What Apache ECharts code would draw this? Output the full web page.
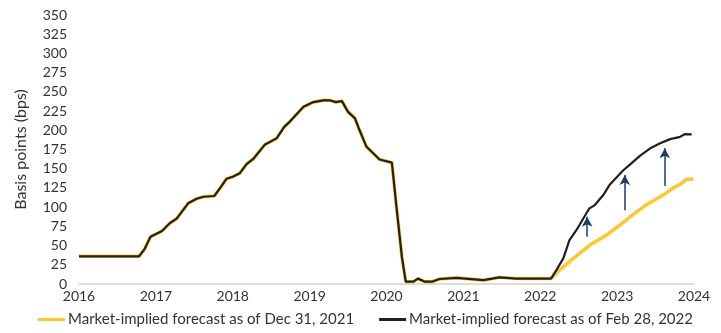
<!DOCTYPE html>
<html>
<head>
<meta charset="utf-8">
<script src="https://cdn.jsdelivr.net/npm/echarts@6/dist/echarts.min.js"></script>
<style>
  html, body { margin: 0; padding: 0; background: #fff; }
  #chart { width: 721px; height: 333px; }
</style>
</head>
<body>
<div id="chart"></div>
<script>
// history shared by both forecasts (year fraction, bps)
const histT = [2016.0, 2016.78, 2016.85, 2016.93, 2017.08, 2017.18, 2017.27, 2017.42, 2017.53, 2017.62,
  2017.76, 2017.83, 2017.92, 2018.0, 2018.09, 2018.18, 2018.27, 2018.42, 2018.57, 2018.67,
  2018.74, 2018.92, 2019.05, 2019.18, 2019.26, 2019.34, 2019.42, 2019.5, 2019.59, 2019.65,
  2019.74, 2019.91, 2020.07, 2020.13, 2020.2, 2020.25, 2020.35, 2020.41, 2020.5, 2020.59,
  2020.69, 2020.91, 2021.26, 2021.47, 2021.69, 2022.14]
const histV = [36, 36, 45, 61.5, 69, 79, 85, 105, 111, 113.5,
  114.5, 124, 137, 139.5, 144, 156, 163, 181.6, 189.5, 204.5,
  211, 230.5, 236.7, 239, 239, 236.7, 238, 224, 215.5, 200,
  178.5, 162, 158, 100, 35.5, 3, 3, 7, 3, 3,
  6.5, 8, 5, 8.7, 7, 7]

// forecast as of Dec 31, 2021
const decT = [2022.25, 2022.43, 2022.645, 2022.75, 2022.86, 2023.08, 2023.2, 2023.38, 2023.6, 2023.73, 2023.82, 2023.9, 2023.99]
const decV = [18, 33.4, 50.7, 57, 63.7, 80, 90, 103, 115.7, 125, 129.6, 136, 136.5]

// forecast as of Feb 28, 2022
const febT = [2022.21, 2022.3, 2022.38, 2022.47, 2022.6, 2022.64, 2022.71, 2022.82, 2022.9, 2023.08,
  2023.17, 2023.3, 2023.43, 2023.56, 2023.69, 2023.82, 2023.88, 2023.97]
const febV = [18, 33.4, 57, 70, 92, 98.4, 102.7, 115.7, 128.7, 148,
  155.7, 167, 176.5, 183, 188.5, 191.5, 195, 194.7]

// arrows showing the upward shift
const arrowT = [2022.61, 2023.1, 2023.62]
const arrowFrom = [61.5, 96, 127.4]
const arrowTo = [87.5, 141.7, 176.5]

const yearTicks = [2016, 2017, 2018, 2019, 2020, 2021, 2022, 2023, 2024]
const seriesNames = ['Market-implied forecast as of Dec 31, 2021', 'Market-implied forecast as of Feb 28, 2022']

function pairs(t, v) {
  return t.map((x, i) => [x, v[i]])
}

const decData = pairs(histT, histV).concat(pairs(decT, decV))
const febData = pairs(histT, histV).concat(pairs(febT, febV))
const arrows = arrowT.map((x, i) => [{ coord: [x, arrowFrom[i]] }, { coord: [x, arrowTo[i]] }])

const font = 'Lato, "Open Sans", sans-serif'
const chart = echarts.init(document.getElementById('chart'))
chart.setOption({
  animation: false,
  textStyle: { fontFamily: font },
  grid: { left: 79, right: 27, top: 15, bottom: 49 },
  legend: {
    bottom: 1,
    left: 33,
    itemWidth: 27,
    itemHeight: 3,
    itemGap: 25,
    icon: 'rect',
    data: seriesNames,
    textStyle: { color: '#333', fontSize: 15, fontFamily: font, padding: [0, 0, 0, -2] }
  },
  xAxis: {
    type: 'value',
    min: 2016,
    max: 2024,
    interval: 1,
    splitLine: { show: false },
    axisTick: { show: false },
    axisLine: { lineStyle: { color: '#d4d0cc', width: 1.5 } },
    axisLabel: {
      color: '#333',
      fontSize: 14,
      margin: 5,
      formatter: (v) => yearTicks.includes(v) ? String(v) : ''
    }
  },
  yAxis: {
    type: 'value',
    min: 0,
    max: 350,
    interval: 25,
    name: 'Basis points (bps)',
    nameLocation: 'middle',
    nameGap: 50,
    nameTextStyle: { color: '#333', fontSize: 16 },
    splitLine: { show: false },
    axisLine: { show: false },
    axisTick: { show: false },
    axisLabel: { color: '#333', fontSize: 14, margin: 12 }
  },
  series: [
    {
      name: seriesNames[0],
      type: 'line',
      data: decData,
      showSymbol: false,
      color: '#fdc82f',
      lineStyle: { color: '#fdc82f', width: 3.5 },
      emphasis: { disabled: true }
    },
    {
      name: seriesNames[1],
      type: 'line',
      data: febData,
      showSymbol: false,
      color: '#231f20',
      lineStyle: { color: '#231f20', width: 2.2 },
      emphasis: { disabled: true },
      markLine: {
        silent: true,
        symbol: ['none', 'arrow'],
        symbolSize: [8, 10],
        label: { show: false },
        lineStyle: { color: '#1d3a6b', width: 1.5, type: 'solid' },
        data: arrows
      }
    }
  ]
})
</script>
</body>
</html>
